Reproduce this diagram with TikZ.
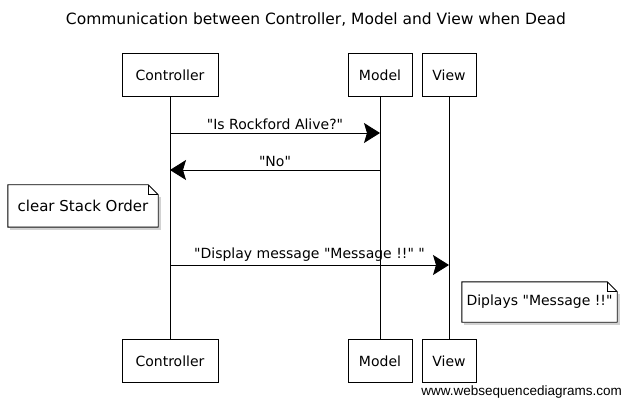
\documentclass[tikz,border=0pt]{standalone}
\usepackage{fontspec}
\setmainfont{DejaVu Sans}[Ligatures=TeXOff]
\newfontfamily\wmfont{Liberation Sans}
\usetikzlibrary{arrows.meta}
\begin{document}
\begin{tikzpicture}[x=1pt,y=-1pt,
  actor/.style={draw, line width=0.9pt, minimum height=43pt, inner sep=0pt, font=\fontsize{14}{16}\selectfont},
  life/.style={line width=0.9pt},
  msg/.style={line width=0.9pt, -{Stealth[length=16pt,width=20pt,inset=3pt]}},
  lbl/.style={font=\fontsize{14}{16}\selectfont, above, inner sep=3pt},
  note/.style={inner sep=0pt, font=\fontsize{14}{16}\selectfont},
  notepath/.style={line width=0.9pt, fill=white},
  shadowpath/.style={line width=1.5pt, draw=gray!35}]
\useasboundingbox (0,0) rectangle (632,406);

\node[font=\fontsize{15.5}{17}\selectfont] (title) at (316,20) {Communication between Controller, Model and View when Dead};

% actors top
\node[actor, minimum width=96pt] (ct) at (170,75) {Controller};
\node[actor, minimum width=64pt] (mt) at (380,75) {Model};
\node[actor, minimum width=54pt] (vt) at (449,75) {View};
% actors bottom
\node[actor, minimum width=96pt] (cb) at (170,361) {Controller};
\node[actor, minimum width=64pt] (mb) at (380,361) {Model};
\node[actor, minimum width=54pt] (vb) at (449,361) {View};

% lifelines
\draw[life] (ct.south) -- (cb.north);
\draw[life] (mt.south) -- (mb.north);
\draw[life] (vt.south) -- (vb.north);

% message points
\coordinate (c1) at (ct |- 0,133);
\coordinate (m1) at (mt |- 0,133);
\coordinate (m2) at (mt |- 0,170);
\coordinate (c2) at (ct |- 0,170);
\coordinate (c3) at (ct |- 0,265);
\coordinate (v3) at (vt |- 0,265);

\draw[msg] (c1) -- node[lbl] {"Is Rockford Alive?"} (m1);
\draw[msg] (m2) -- node[lbl] {"No"} (c2);
\draw[msg] (c3) -- node[lbl] {"Display message "Message !!" "} (v3);

% notes
\node[note, minimum width=150pt, minimum height=42pt] (n1) at (83,206) {\phantom{clear Stack Order}};
\node[note, minimum width=155pt, minimum height=40pt] (n2) at (539.5,302) {\phantom{Diplays}};
\foreach \n in {n1,n2}{
  \draw[shadowpath] ([shift={(2,12)}]\n.north east) -- ([shift={(2,2)}]\n.south east) -- ([shift={(2,2)}]\n.south west);
  \draw[notepath] (\n.north west) -- ([shift={(-10,0)}]\n.north east) -- ([shift={(0,10)}]\n.north east) -- (\n.south east) -- (\n.south west) -- cycle;
  \draw[line width=0.9pt] ([shift={(-10,0)}]\n.north east) -- ([shift={(-10,10)}]\n.north east) -- ([shift={(0,10)}]\n.north east);
}
\node[note, font=\fontsize{15}{17}\selectfont] (t1) at (n1) {clear Stack Order};
\node[note] (t2) at (n2) {Diplays "Message !!"};

\node[anchor=east, inner sep=0pt, font=\wmfont\fontsize{13.5}{15}\selectfont] (wm) at (622,392) {www.websequencediagrams.com};
\end{tikzpicture}
\end{document}
